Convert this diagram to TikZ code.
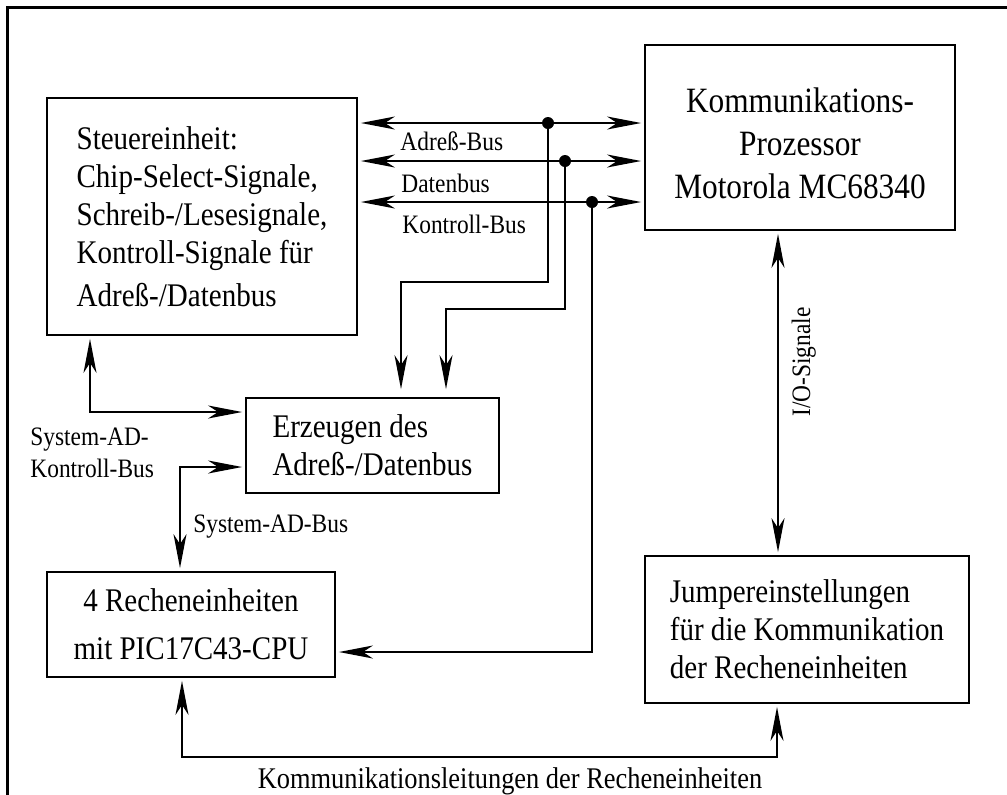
\documentclass[tikz,border=0pt]{standalone}
\usepackage{fontspec}
\setmainfont{Liberation Serif}[FakeStretch=0.88]
\usetikzlibrary{arrows.meta}

\begin{document}
\begin{tikzpicture}[x=0.5pt, y=-0.5pt, >={Stealth[length=17pt, width=6.5pt, inset=5pt]},
    block/.style={draw, line width=0.9pt, inner sep=0pt, font=\fontsize{16.5}{19}\selectfont},
    buslabel/.style={inner sep=0pt, font=\fontsize{13.3}{16}\selectfont},
    bus/.style={line width=0.9pt, shorten <=1.5pt, shorten >=1.5pt}]
    \useasboundingbox (0,0) rectangle (1007,794);
    \draw[line width=1.4pt] (7.5,830) -- (7.5,7.5) -- (1030,7.5);

    % Bloecke
    \node[block, align=left, minimum width=155pt, minimum height=118.5pt] (steuer) at (202,216.5)
        {Steuereinheit:\\Chip-Select-Signale,\\Schreib-/Lesesignale,\\Kontroll-Signale für\\[2.5pt]Adreß-/Datenbus};
    \node[block, align=center, minimum width=155pt, minimum height=92.5pt, font=\fontsize{17.8}{21.5}\selectfont] (komm) at (800,137.5)
        {\rule{0pt}{18pt}Kommunikations-\\Prozessor\\Motorola MC68340};
    \node[block, align=left, minimum width=126.5pt, minimum height=47.5pt] (erz) at (372.5,445.5)
        {Erzeugen des\\Adreß-/Datenbus};
    \node[block, align=center, minimum width=144pt, minimum height=52.5pt, font=\fontsize{16.5}{24}\selectfont] (reche) at (191,624.5)
        {4 Recheneinheiten\\mit PIC17C43-CPU};
    \node[block, align=left, minimum width=162pt, minimum height=73.5pt] (jump) at (807,629.5)
        {Jumpereinstellungen\\für die Kommunikation\\der Recheneinheiten};

    % Busse
    \coordinate (adr) at (548,123);
    \coordinate (dat) at (565,161);
    \coordinate (kon) at (592,202);
    \draw[bus, <->] (steuer.east |- adr) -- (komm.west |- adr);
    \draw[bus, <->] (steuer.east |- dat) -- (komm.west |- dat);
    \draw[bus, <->] (steuer.east |- kon) -- (komm.west |- kon);
    \foreach \tap in {adr,dat,kon}
        \fill (\tap) circle (3pt);
    \node[buslabel, anchor=base west] (adrlabel) at (400,150) {Adreß-Bus};
    \node[buslabel, anchor=base west] (datlabel) at (401,192) {Datenbus};
    \node[buslabel, anchor=base west] (konlabel) at (402,233) {Kontroll-Bus};

    \coordinate (adrknee) at (401,282);
    \coordinate (datknee) at (446,309);
    \coordinate (konknee) at (592,652);
    \draw[bus, ->, shorten >=4pt] (adr) |- (adrknee) -- (adrknee |- erz.north);
    \draw[bus, ->, shorten >=4pt] (dat) |- (datknee) -- (datknee |- erz.north);
    \draw[bus, ->] (kon) -- (konknee) -- (reche.east |- konknee);

    % System-AD
    \coordinate (sak) at (90,412);
    \coordinate (sab) at (180,467);
    \draw[bus, <->] (steuer.south -| sak) -- (sak) -- (erz.west |- sak);
    \draw[bus, <->] (erz.west |- sab) -- (sab) -- (reche.north -| sab);
    \node[buslabel, anchor=west, align=left] (saklabel) at (30,453) {System-AD-\\Kontroll-Bus};
    \node[buslabel, anchor=base west] (sablabel) at (193,532) {System-AD-Bus};

    % I/O und Kommunikationsleitungen
    \coordinate (io) at (778,0);
    \draw[bus, <->] (komm.south -| io) -- (jump.north -| io);
    \node[buslabel, rotate=90, anchor=base] (iolabel) at (810,362) {I/O-Signale};
    \coordinate (kl1) at (182,757);
    \coordinate (kl2) at (777,757);
    \draw[bus, <->] (reche.south -| kl1) -- (kl1) -- (kl2) -- (jump.south -| kl2);
    \node[buslabel, anchor=base, font=\fontsize{15}{18}\selectfont] (kllabel) at (510,788) {Kommunikationsleitungen der Recheneinheiten};
\end{tikzpicture}
\end{document}
